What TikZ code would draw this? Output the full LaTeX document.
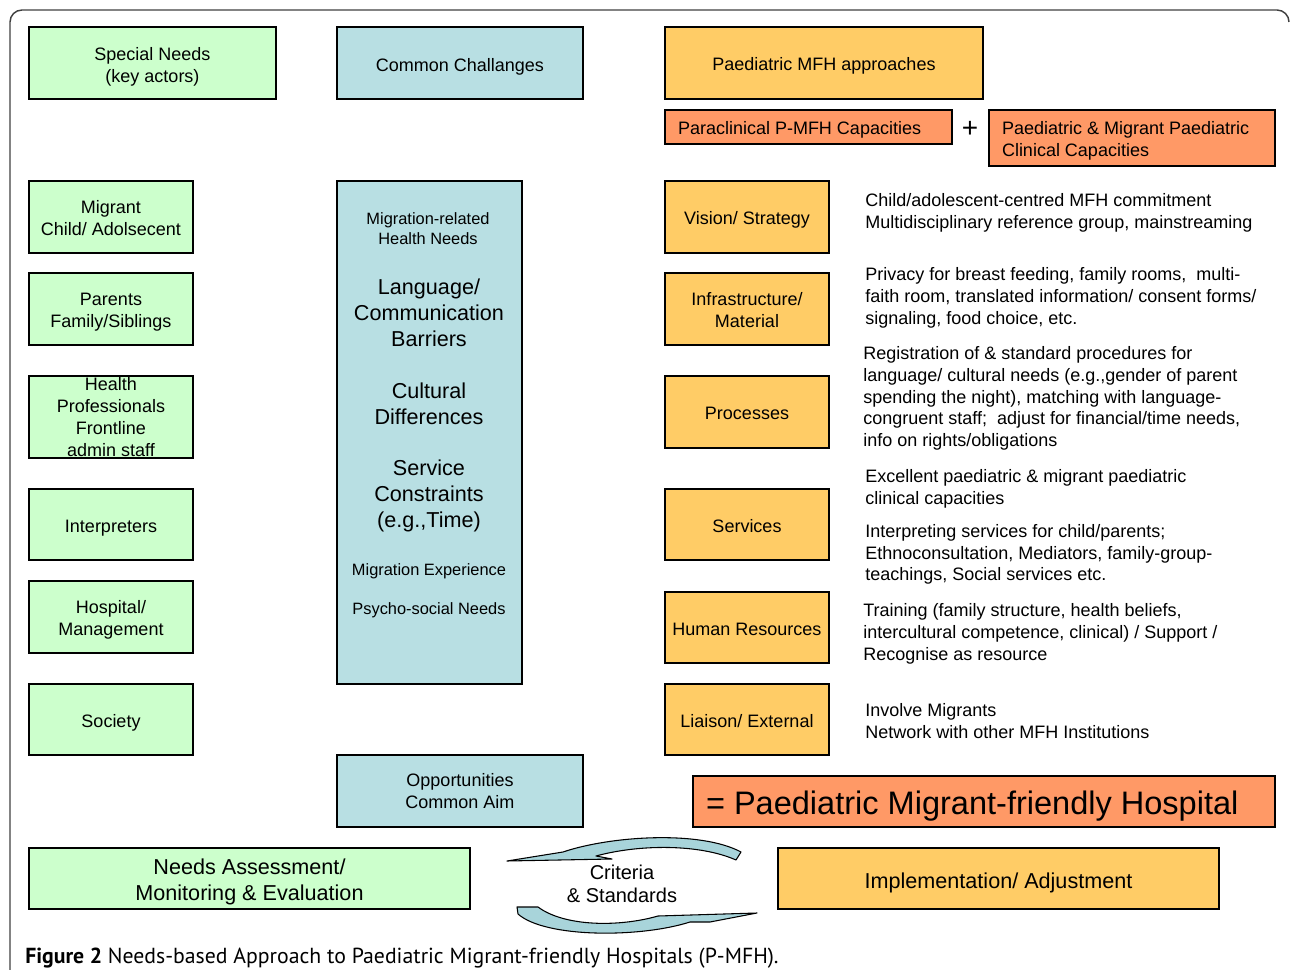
\documentclass[tikz,border=0pt]{standalone}
\usepackage{fontspec}
\setmainfont{Liberation Sans}
\newfontfamily\capfont{PT Sans}
\definecolor{gfill}{HTML}{CCFFCC}
\definecolor{bfill}{HTML}{B8DFE3}
\definecolor{ofill}{HTML}{FFCC66}
\definecolor{rfill}{HTML}{FF9966}
\definecolor{afill}{HTML}{A8D4DA}
\newcommand{\ctext}[2][-2.6pt]{\raisebox{#1}[\height][\depth]{\begin{tabular}{@{}c@{}}#2\end{tabular}}}
\newcommand{\ltext}[3][-2.4pt]{\raisebox{#1}[\height][\depth]{\makebox[#2][l]{\begin{tabular}{@{}l@{}}#3\end{tabular}}}}
\begin{document}
\begin{tikzpicture}[x=0.75pt,y=-0.75pt,
  region/.style args={#1/#2/#3/#4}{at={({(#1+#3)/2},{(#2+#4)/2})},
     minimum width={(#3-#1)*0.75pt}, minimum height={(#4-#2)*0.75pt}},
  box/.style={draw=black, line width=1.1pt, inner sep=0pt,
              font=\fontsize{13.5}{16.5}\selectfont},
  gbox/.style={box, fill=gfill},
  bbox/.style={box, fill=bfill},
  obox/.style={box, fill=ofill},
  rbox/.style={box, fill=rfill},
  desc/.style={anchor=west, align=left, inner sep=0pt, font=\fontsize{13.5}{16.3}\selectfont},
  small/.style={align=center, inner sep=0pt, font=\fontsize{12.3}{15}\selectfont},
  big/.style={align=center, inner sep=0pt, font=\fontsize{16.2}{19.5}\selectfont},
  cycarrow/.style={fill=afill, draw=black, line width=0.8pt, line join=round}]
\useasboundingbox (0,0) rectangle (1290,970);
% outer frame
\draw[line width=1.1pt, black!75, rounded corners=9pt] (10,970) -- (10,10) -- (1289,10) -- (1289,22);

% top row
\node[gbox, region=29/27/276/99] (sn) {\ctext[-3pt]{Special Needs\\(key actors)}};
\node[bbox, region=337/27/583/99] (cc) {\ctext[-3pt]{Common Challanges}};
\node[obox, region=665/27/983/99] (pa) {\ctext{Paediatric MFH approaches}};
\node[rbox, region=665/110/952/144] (pc) {\ltext{195.75pt}{Paraclinical P-MFH Capacities}};
\node[font=\fontsize{21}{21}\selectfont, inner sep=0pt] (plus) at (970,129) {+};
\node[rbox, region=989/110/1275/166] (cl) {\ltext{195pt}{Paediatric \& Migrant Paediatric\\Clinical Capacities}};

% left column
\node[gbox, region=29/181/193/253] (mc) {\ctext[-2.3pt]{Migrant\\Child/ Adolsecent}};
\node[gbox, region=29/273/193/345] (pf) {\ctext[-2.3pt]{Parents\\Family/Siblings}};
\node[gbox, region=29/376/193/458, align=center] (hp) {Health\\Professionals\\Frontline\\admin staff};
\node[gbox, region=29/489/193/560] (in) {\ctext{Interpreters}};
\node[gbox, region=29/581/193/653] (hm) {\ctext[-2.3pt]{Hospital/\\Management}};
\node[gbox, region=29/684/193/755] (so) {\ctext{Society}};

% middle column
\node[bbox, region=337/181/522/684] (col) {};
\node[small] (mr) at (428,228.5) {Migration-related\\Health Needs};
\node[big] (lc) at (429,313) {Language/\\Communication\\Barriers};
\node[big] (cd) at (429,404) {Cultural\\Differences};
\node[big] (sc) at (429,496) {Service\\Constraints\\(e.g.,Time)};
\node[small] (me) at (429,571) {Migration Experience};
\node[small] (ps) at (429,610) {Psycho-social Needs};
\node[bbox, region=337/755/583/827] (op) {\ctext[-1.9pt]{Opportunities\\Common Aim}};

% right column
\node[obox, region=665/181/829/253] (vs) {\ctext{Vision/ Strategy}};
\node[obox, region=665/273/829/345] (im) {\ctext{Infrastructure/\\Material}};
\node[obox, region=665/376/829/448] (pr) {\ctext{Processes}};
\node[obox, region=665/489/829/560] (se) {\ctext{Services}};
\node[obox, region=665/592/829/663] (hr) {\ctext{Human Resources}};
\node[obox, region=665/684/829/755] (le) {\ctext{Liaison/ External}};

% descriptions
\node[desc] (d1) at (865,212.5) {Child/adolescent-centred MFH commitment\\Multidisciplinary reference group, mainstreaming};
\node[desc] (d2) at (865,298) {Privacy for breast feeding, family rooms,\ \ multi-\\faith room, translated information/ consent forms/\\signaling, food choice, etc.};
\node[desc] (d3) at (863,398.5) {Registration of \& standard procedures for\\language/ cultural needs (e.g.,gender of parent\\spending the night), matching with language-\\congruent staff;\ \ adjust for financial/time needs,\\info on rights/obligations};
\node[desc] (d4) at (865,489) {Excellent paediatric \& migrant paediatric\\clinical capacities};
\node[desc] (d5) at (865,554.5) {Interpreting services for child/parents;\\Ethnoconsultation, Mediators, family-group-\\teachings, Social services etc.};
\node[desc] (d6) at (863,634) {Training (family structure, health beliefs,\\intercultural competence, clinical) / Support /\\Recognise as resource};
\node[desc] (d7) at (865,721) {Involve Migrants\\Network with other MFH Institutions};

% result
\node[rbox, region=693/776/1275/827, font=\fontsize{24.4}{28}\selectfont] (pmfh) {\ltext[-4.5pt]{417pt}{= Paediatric Migrant-friendly Hospital}};

% bottom row
\node[gbox, region=29/848/470/909, font=\fontsize{16.2}{19.5}\selectfont] (na) {\ctext[-3.2pt]{Needs Assessment/\\Monitoring \& Evaluation}};
\node[obox, region=778/848/1219/909, font=\fontsize{16.2}{19.5}\selectfont] (ia) {\ctext[-3.5pt]{Implementation/ Adjustment}};
\node[align=center, inner sep=0pt, font=\fontsize{15}{17.3}\selectfont] (cs) at (622,884) {Criteria\\\& Standards};

% cycle arrows
\filldraw[cycarrow] (507,861) -- (563,852) .. controls (610,836) and (700,830) .. (741,852)
  -- (736,860) .. controls (700,844) and (640,844) .. (596,856) -- (612,859) -- cycle;
\filldraw[cycarrow] (517,907) -- (538,907) .. controls (565,927) and (620,927) .. (658,916)
  -- (757,913) -- (710,922) -- (690,922) .. controls (640,938) and (545,938) .. (518,914) -- cycle;

% caption
\node[anchor=base west, inner sep=0pt] (cap) at (25,963) {\resizebox{565pt}{!}{\capfont\fontsize{15}{18}\selectfont\textbf{Figure 2} Needs-based Approach to Paediatric Migrant-friendly Hospitals (P-MFH).}};
\end{tikzpicture}
\end{document}
